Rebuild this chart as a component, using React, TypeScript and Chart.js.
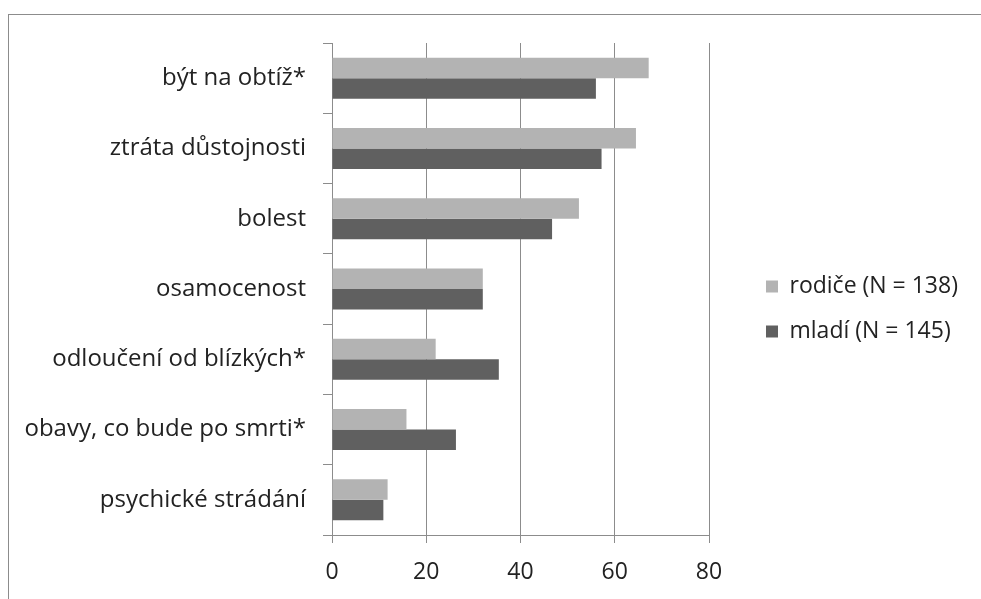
import { useEffect, useRef } from "react";
import { Chart, registerables } from "chart.js";

Chart.register(...registerables);

// Categories, top to bottom
const categories = [
  "být na obtíž*",
  "ztráta důstojnosti",
  "bolest",
  "osamocenost",
  "odloučení od blízkých*",
  "obavy, co bude po smrti*",
  "psychické strádání",
];

const parentsLabel = "rodiče (N = 138)";
const youthLabel = "mladí (N = 145)";

const parentsValues = [67.2, 64.5, 52.4, 32, 22, 15.8, 11.8];
const youthValues = [56, 57.2, 46.7, 32, 35.4, 26.3, 10.9];

const xMin = 0;
const xMax = 80;
const xStep = 20;

const FONT = "'Open Sans', 'DejaVu Sans', sans-serif";
const TEXT = "#222222";
const LINE = "#8c8c8c";

const CANVAS_W = 981;
const CANVAS_H = 599;
const PLOT_RIGHT = 709;
const LEGEND_SIZE = 23;
const LEGEND_BOX = 12;
const LEGEND_PAD = 22;

// Nudges the legend block next to the plot
const legendNudge = {
  id: "legendNudge",
  afterLayout(chart: any) {
    const lg = chart.legend;
    if (!lg) return;
    lg.left += 35;
    lg.right += 35;
    lg.top -= 12;
    lg.bottom -= 12;
  },
};

export default function App() {
  const canvasRef = useRef<HTMLCanvasElement | null>(null);

  useEffect(() => {
    const canvas = canvasRef.current;
    if (!canvas) return;

    // Width the legend will claim, so the plot ends where it should
    const mctx = document.createElement("canvas").getContext("2d")!;
    mctx.font = `${LEGEND_SIZE}px ${FONT}`;
    const textW = Math.max(
      mctx.measureText(parentsLabel).width,
      mctx.measureText(youthLabel).width
    );
    const legendW = LEGEND_PAD + LEGEND_BOX + LEGEND_SIZE / 2 + textW + 10;
    const rightPad = Math.max(0, CANVAS_W - PLOT_RIGHT - legendW);

    const chart = new Chart(canvas, {
      type: "bar",
      data: {
        labels: categories,
        datasets: [
          {
            label: parentsLabel,
            data: parentsValues,
            backgroundColor: "#b3b3b3",
            borderWidth: 0,
          },
          {
            label: youthLabel,
            data: youthValues,
            backgroundColor: "#606060",
            borderWidth: 0,
          },
        ],
      },
      options: {
        indexAxis: "y",
        responsive: false,
        animation: false,
        devicePixelRatio: 1,
        datasets: {
          bar: { categoryPercentage: 0.583, barPercentage: 1 },
        },
        layout: { padding: { top: 43, left: 0, right: rightPad, bottom: 0 } },
        scales: {
          x: {
            type: "linear",
            min: xMin,
            max: xMax,
            ticks: {
              stepSize: xStep,
              color: TEXT,
              font: { family: FONT, size: 23 },
              padding: 16,
            },
            grid: { color: LINE, lineWidth: 1, tickLength: 8 },
            border: { display: true, color: LINE, width: 1 },
            afterFit(scale: any) {
              scale.height = 64;
            },
          },
          y: {
            type: "category",
            ticks: {
              color: TEXT,
              font: { family: FONT, size: 24 },
              padding: 17,
            },
            grid: {
              drawOnChartArea: false,
              color: LINE,
              lineWidth: 1,
              tickLength: 9,
            },
            border: { display: true, color: LINE, width: 1 },
            afterFit(scale: any) {
              scale.width = 332;
            },
          },
        },
        plugins: {
          legend: {
            position: "right",
            labels: {
              boxWidth: LEGEND_BOX,
              boxHeight: LEGEND_BOX,
              padding: LEGEND_PAD,
              color: TEXT,
              font: { family: FONT, size: LEGEND_SIZE },
            },
          },
          tooltip: { enabled: false },
        },
      },
      plugins: [legendNudge],
    });
    return () => chart.destroy();
  }, []);

  return (
    <>
      <div
        style={{
          position: "fixed",
          left: 8,
          top: 14,
          width: 2000,
          height: 2000,
          border: "1px solid #8c8c8c",
          background: "#ffffff",
        }}
      />
      <canvas
        ref={canvasRef}
        width={CANVAS_W}
        height={CANVAS_H}
        style={{ position: "fixed", left: 0, top: 0, width: CANVAS_W, height: CANVAS_H }}
      />
    </>
  );
}
